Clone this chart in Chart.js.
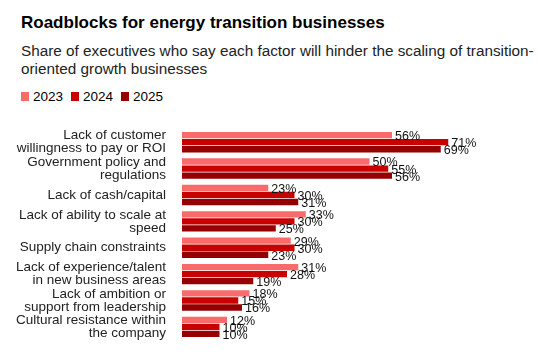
<!DOCTYPE html>
<html>
<head>
<meta charset="utf-8">
<script src="https://cdn.jsdelivr.net/npm/chart.js@4.4.1/dist/chart.umd.min.js"></script>
<style>
  body { margin: 0; background: #fff; font-family: "Liberation Sans", Arial, sans-serif; color: #000; }
  #wrap { position: relative; width: 556px; height: 361px; overflow: hidden; }
  #title { position: absolute; left: 21px; top: 13px; font-size: 17px; font-weight: bold; }
  #subtitle { position: absolute; left: 21px; top: 42px; font-size: 15.3px; line-height: 17.5px; color: #222; }
  #legend { position: absolute; left: 21px; top: 89px; font-size: 13.5px; display: flex; }
  #legend span.item { display: flex; align-items: center; margin-right: 8px; }
  #legend span.box { width: 8px; height: 9px; margin-right: 4px; display: inline-block; }
  canvas { position: absolute; left: 0; top: 0; }
</style>
</head>
<body>
<div id="wrap">
  <div id="title">Roadblocks for energy transition businesses</div>
  <div id="subtitle">Share of executives who say each factor will hinder the scaling of transition-<br>oriented growth businesses</div>
  <div id="legend"></div>
  <canvas id="chart" width="556" height="361"></canvas>
</div>
<script>
// Categories and values (% of executives)
const categories = [
    ["Lack of customer", "willingness to pay or ROI"],
    ["Government policy and", "regulations"],
    "Lack of cash/capital",
    ["Lack of ability to scale at", "speed"],
    "Supply chain constraints",
    ["Lack of experience/talent", "in new business areas"],
    ["Lack of ambition or", "support from leadership"],
    ["Cultural resistance within", "the company"]
];
const years = ["2023", "2024", "2025"];
const values2023 = [56, 50, 23, 33, 29, 31, 18, 12];
const values2024 = [71, 55, 30, 30, 30, 28, 15, 10];
const values2025 = [69, 56, 31, 25, 23, 19, 16, 10];
const colors = ["#F96A6A", "#C80000", "#960000"];

const series = [values2023, values2024, values2025];

// Value labels at bar ends
const barLabels = {
    id: "barLabels",
    afterDatasetsDraw(chart) {
        const ctx = chart.ctx;
        ctx.save();
        ctx.font = "12.5px 'Liberation Sans', Arial, sans-serif";
        ctx.fillStyle = "#111";
        ctx.textAlign = "left";
        ctx.textBaseline = "middle";
        chart.data.datasets.forEach((ds, i) => {
            chart.getDatasetMeta(i).data.forEach((bar, j) => {
                ctx.fillText(ds.data[j] + "%", bar.x + 3, bar.y + 1.5);
            });
        });
        ctx.restore();
    }
};

const chart = new Chart(document.getElementById("chart"), {
    type: "bar",
    data: {
        labels: categories,
        datasets: years.map((y, i) => ({
            label: y,
            data: series[i],
            backgroundColor: colors[i],
            borderWidth: 0,
            categoryPercentage: 0.8,
            barPercentage: 0.9
        }))
    },
    options: {
        indexAxis: "y",
        responsive: false,
        animation: false,
        layout: { padding: { top: 129, bottom: 12, left: 0, right: 74 } },
        plugins: {
            legend: { display: false },
            tooltip: { enabled: false }
        },
        scales: {
            x: {
                min: 0,
                max: 80,
                display: false
            },
            y: {
                grid: { display: false },
                border: { display: false },
                ticks: {
                    autoSkip: false,
                    color: "#222",
                    padding: 8,
                    font: { family: "'Liberation Sans', Arial, sans-serif", size: 13.5, lineHeight: 0.96 }
                },
                afterFit(scale) { scale.width = 182; }
            }
        }
    },
    plugins: [barLabels]
});

// HTML legend built from the datasets
const legendEl = document.getElementById("legend");
chart.data.datasets.forEach(ds => {
    legendEl.innerHTML += `<span class="item"><span class="box" style="background:${ds.backgroundColor}"></span>${ds.label}</span>`;
});
</script>
</body>
</html>
